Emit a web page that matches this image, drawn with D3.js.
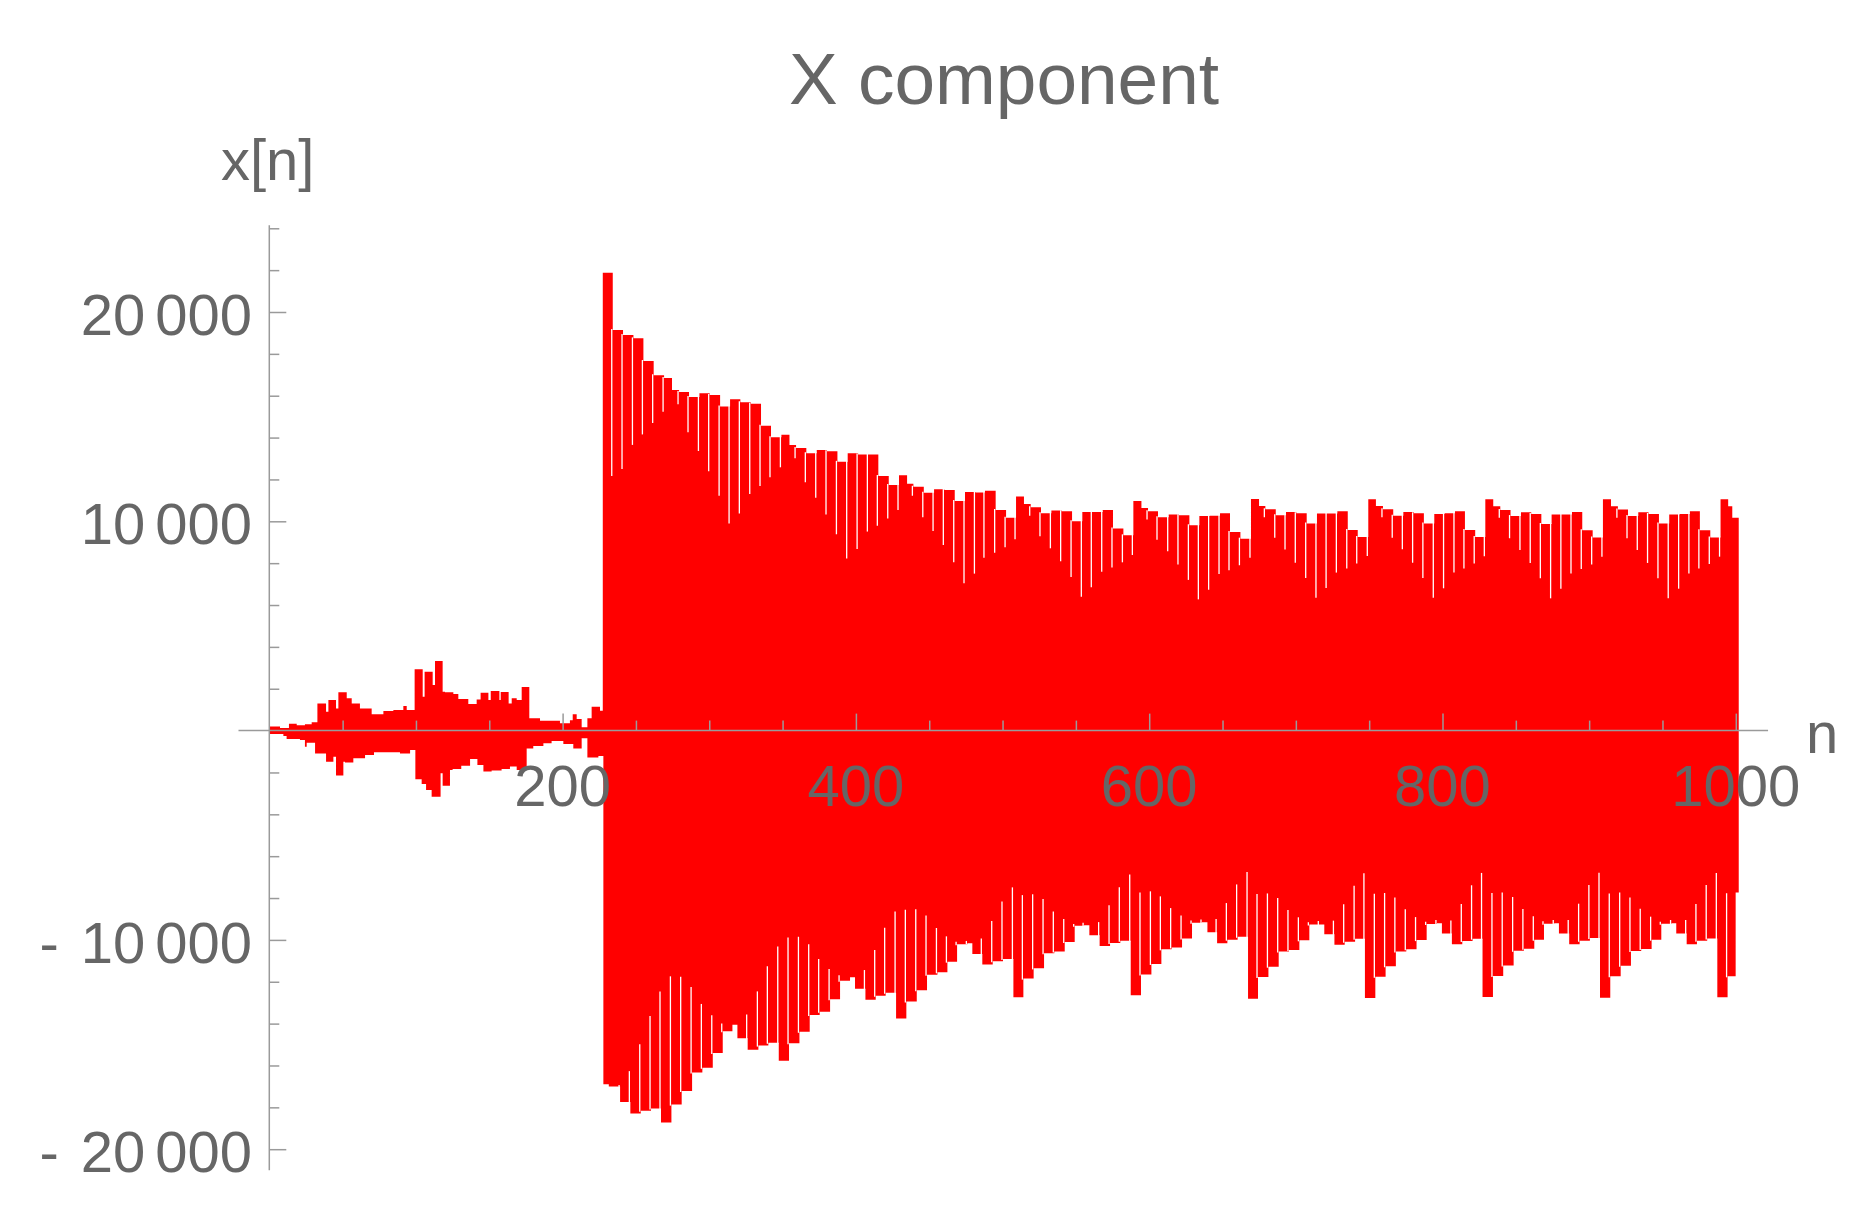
<!DOCTYPE html>
<html><head><meta charset="utf-8">
<script src="https://cdn.jsdelivr.net/npm/d3@7"></script>
<style>body{margin:0;background:#fff}svg{display:block}</style>
</head><body>
<svg id="chart" width="1875" height="1224"></svg>
<script>
// ---------------- data ----------------
const titleText = "X component";
const xAxisLabel = "n";
const yAxisLabel = "x[n]";
const xMajorTicks = [200, 400, 600, 800, 1000];
const xTickLabels = ["200", "400", "600", "800", "1000"];
const xMinorTicks = [50, 100, 150, 250, 300, 350, 450, 500, 550, 650, 700, 750, 850, 900, 950];
const yMajorTicks = [-20000, -10000, 10000, 20000];
const yLabelSign = ["-", "-", "", ""];
const yLabelHead = ["20", "10", "10", "20"];
const yLabelTail = ["000", "000", "000", "000"];
const yMinorTicks = [-18000, -16000, -14000, -12000, -8000, -6000, -4000, -2000, 2000, 4000, 6000, 8000, 12000, 14000, 16000, 18000, 22000, 24000];
const xAxisExtent = [-21, 1022];
const yAxisExtent = [-21000, 24150];
const lastN = 1002;

// early, small-amplitude part: upper envelope
const earlyTopN = [0, 7.3, 13.4, 18.7, 24.3, 28.9, 32.8, 38.7, 40.3, 45.5, 47.1, 52.8, 56.2, 61.8, 69.8, 77.8, 84.6, 91.4, 93.7, 99.1, 104.6, 105.9, 111.4, 113.0, 118.2, 119.8, 125.5, 128.9, 135.7, 141.4, 144.1, 149.4, 151.0, 156.9, 157.8, 163.2, 165.3, 168.7, 172.1, 177.3, 184.6, 198.2, 205.0, 206.9, 209.6, 213.0, 216.9, 219.8, 225.5];
const earlyTopV = [190, 120, 330, 250, 300, 395, 1300, 900, 1460, 1060, 1830, 1540, 1300, 1060, 780, 940, 985, 1175, 985, 2930, 1620, 2815, 2180, 3325, 1860, 1830, 1750, 1510, 1270, 1490, 1810, 1460, 1890, 1460, 1845, 1300, 1540, 1460, 2080, 585, 475, 350, 500, 780, 560, 160, 585, 1145, 950];
// early part: lower envelope
const earlyBotN = [0, 9.6, 11.8, 20.9, 24.3, 25.5, 31.2, 38.7, 43.7, 45.5, 50.5, 51.6, 57.3, 65.3, 71.4, 89.1, 96.0, 99.6, 103.9, 106.9, 110.7, 116.8, 118.2, 123.2, 125.0, 130.9, 136.9, 141.9, 146.0, 151.6, 158.4, 164.1, 168.7, 175.5, 180.0, 186.9, 192.5, 200.5, 207.3, 213.0, 216.9, 224.4];
const earlyBotV = [-160, -260, -400, -450, -770, -580, -1090, -1485, -1250, -2140, -1490, -1520, -1325, -1170, -1040, -1090, -930, -2330, -2550, -2840, -3160, -2040, -2630, -1880, -1840, -1680, -1360, -1640, -1960, -1910, -1840, -1720, -1880, -850, -740, -610, -500, -640, -850, -370, -1280, -1210];

// large part: upper plateaus (start n, plateau value, depth of the white notch before it)
const topN = [227.4, 234.2, 241.2, 248.3, 255.1, 262.1, 269.2, 274.6, 279.4, 286.2, 293.3, 300.3, 307.4, 314.2, 321.2, 328.3, 335.3, 342.1, 349.2, 354.7, 359.2, 366.2, 373.3, 380.3, 387.4, 394.4, 401.5, 408.5, 415.3, 422.4, 429.4, 434.9, 439.2, 446.3, 453.3, 460.3, 467.4, 474.4, 481.5, 488.0, 495.3, 502.4, 509.2, 514.6, 519.2, 526.2, 533.3, 540.3, 547.4, 554.4, 561.2, 568.3, 575.3, 582.4, 589.2, 594.7, 599.2, 606.0, 613.3, 620.3, 627.4, 634.2, 641.2, 648.3, 655.1, 662.2, 669.4, 674.9, 679.2, 686.3, 693.3, 700.3, 707.4, 714.4, 721.3, 728.3, 735.4, 742.2, 749.4, 754.6, 759.4, 766.4, 773.3, 780.3, 787.3, 794.4, 801.4, 808.5, 815.3, 822.3, 829.2, 834.6, 839.4, 846.4, 853.5, 860.5, 867.4, 874.4, 881.4, 888.3, 895.3, 902.4, 909.4, 914.9, 919.6, 926.5, 933.5, 940.5, 947.6, 954.6, 961.7, 968.7, 975.5, 982.6, 989.6, 994.8, 997.6];
const topV = [21880, 19140, 18900, 18740, 17660, 16980, 16850, 16270, 16180, 15940, 16120, 16040, 15480, 15830, 15690, 15620, 14570, 14010, 14130, 13650, 13500, 13250, 13410, 13350, 12840, 13250, 13190, 13190, 12170, 11740, 12200, 11800, 11650, 11370, 11530, 11500, 10970, 11400, 11380, 11460, 10540, 10170, 11180, 10830, 10670, 10380, 10520, 10480, 10000, 10440, 10440, 10540, 9660, 9330, 10970, 10640, 10480, 10190, 10330, 10290, 9810, 10250, 10270, 10380, 9490, 9170, 11070, 10730, 10570, 10290, 10440, 10380, 9900, 10370, 10370, 10480, 9580, 9250, 11050, 10730, 10570, 10270, 10440, 10380, 9900, 10350, 10380, 10480, 9580, 9250, 11050, 10720, 10540, 10250, 10430, 10350, 9870, 10330, 10330, 10440, 9570, 9230, 11050, 10720, 10560, 10250, 10430, 10350, 9890, 10330, 10350, 10480, 9570, 9230, 11050, 10720, 10170];
const topDip = [null, 12170, 12500, 13650, 14150, 14700, 15230, null, 15590, 14250, 13360, 12390, 11220, 9890, 10370, 11300, 11690, 12100, 12580, null, 13010, 11860, 11130, 10320, 9380, 8220, 8680, 9510, 9790, 10130, 10540, null, 11220, 10190, 9540, 8870, 8040, 7040, 7500, 8260, 8500, 8760, 9140, null, 10270, 9280, 8710, 8090, 7340, 6400, 6850, 7590, 7790, 8040, 8390, null, 10090, 9120, 8570, 7940, 7200, 6270, 6730, 7480, 7660, 7900, 8260, null, 10190, 9220, 8650, 8020, 7290, 6350, 6810, 7550, 7740, 7980, 8340, null, 10190, 9220, 8660, 8020, 7290, 6350, 6800, 7550, 7740, 7980, 8330, null, 10170, 9190, 8630, 8010, 7280, 6320, 6780, 7510, 7720, 7940, 8310, null, 10170, 9190, 8630, 8010, 7280, 6320, 6780, 7510, 7740, 7960, 8310, null, null];

// large part: lower plateaus (start n, plateau value, height of the white notch before it)
const botN = [227.8, 231.5, 239.2, 246.2, 253.3, 260.3, 267.1, 274.2, 281.2, 288.3, 295.3, 302.4, 309.2, 315.8, 319.2, 326.2, 333.5, 340.3, 347.4, 354.4, 361.5, 368.5, 375.3, 382.4, 389.2, 396.0, 399.4, 406.5, 413.5, 420.3, 427.4, 434.4, 441.5, 448.5, 455.6, 462.4, 469.0, 476.0, 479.4, 486.2, 493.3, 500.3, 507.4, 514.2, 521.2, 528.3, 535.3, 542.4, 549.2, 555.6, 559.2, 566.2, 573.3, 580.3, 587.4, 594.4, 601.5, 608.3, 615.3, 622.4, 629.2, 636.0, 639.7, 646.3, 653.3, 660.3, 667.4, 674.2, 681.3, 688.3, 695.3, 702.4, 709.2, 716.0, 719.4, 726.3, 733.3, 740.4, 747.1, 754.2, 761.2, 768.2, 775.3, 782.3, 789.2, 796.2, 799.6, 806.4, 813.5, 820.5, 827.3, 834.4, 841.4, 848.5, 855.5, 862.6, 869.2, 876.2, 879.4, 886.4, 893.5, 900.5, 907.4, 914.4, 921.5, 928.5, 935.5, 942.6, 949.2, 956.2, 959.4, 966.5, 973.5, 980.5, 987.4, 994.4, 999.9];
const botV = [-16900, -17010, -17750, -18300, -18160, -18050, -18730, -17870, -17220, -16340, -16110, -15400, -14370, -14050, -14700, -15250, -15050, -14910, -15770, -14940, -14390, -13590, -13430, -12840, -11950, -11790, -12330, -12860, -12670, -12520, -13760, -12940, -12410, -11660, -11550, -11040, -10210, -10160, -10670, -11180, -11020, -10910, -12740, -11850, -11360, -10640, -10550, -10100, -9320, -9300, -9780, -10290, -10150, -10040, -12650, -11650, -11150, -10450, -10360, -9930, -9180, -9160, -9640, -10160, -9990, -9850, -12810, -11770, -11280, -10560, -10480, -10020, -9270, -9260, -9730, -10230, -10090, -9940, -12780, -11760, -11260, -10550, -10450, -10010, -9240, -9210, -9700, -10210, -10050, -9940, -12730, -11730, -11220, -10520, -10420, -9990, -9230, -9210, -9700, -10210, -10040, -9910, -12760, -11740, -11230, -10530, -10430, -9990, -9230, -9210, -9700, -10210, -10040, -9930, -12740, -11740, -7740];
const botRise = [null, null, -16930, -16270, -14980, -13640, -12470, -11740, -11760, -12250, -13060, -13600, -13990, null, null, -13560, -12460, -11260, -10310, -9880, -9850, -10210, -10910, -11390, -11690, null, null, -11440, -10480, -9420, -8640, -8560, -8540, -8830, -9430, -9830, -10090, -10050, null, -9930, -9100, -8160, -7490, -7860, -7820, -8050, -8640, -9000, -9240, -9180, null, -9150, -8350, -7490, -6870, -7730, -7680, -7920, -8480, -8840, -9070, -9020, null, -9000, -8240, -7350, -6760, -7810, -7780, -8000, -8570, -8920, -9160, -9100, null, -9080, -8300, -7410, -6820, -7790, -7760, -7980, -8540, -8910, -9130, -9050, null, -9070, -8290, -7390, -6800, -7760, -7730, -7950, -8520, -8870, -9110, -9050, null, -9050, -8270, -7380, -6790, -7780, -7740, -7970, -8510, -8890, -9130, -9050, null, -9050, -8290, -7380, -6800, -7770, null];

// ---------------- drawing ----------------
const FONT = "'Liberation Sans', Arial, Helvetica, sans-serif";
const TEXT = "#666666", AXIS = "#9a9a9a", RED = "#ff0000";

const x = d3.scaleLinear().domain([0, 1000]).range([269.3, 1735.8]);
const y = d3.scaleLinear().domain([0, 20000]).range([730.6, 312.0]);

const svg = d3.select("#chart");

const topPts = earlyTopN.map((n, i) => ({n, v: earlyTopV[i], g: null}))
  .concat(topN.map((n, i) => ({n, v: topV[i], g: topDip[i]})));
const botPts = earlyBotN.map((n, i) => ({n, v: earlyBotV[i], g: null}))
  .concat(botN.map((n, i) => ({n, v: botV[i], g: botRise[i]})));
const topLine = topPts.concat([{n: lastN, v: topPts[topPts.length - 1].v}]);
const botLine = botPts.concat([{n: lastN, v: botPts[botPts.length - 1].v}]);

const area = d3.area().x(d => x(d.n)).y0(y(0)).y1(d => y(d.v)).curve(d3.curveStepAfter);

const plot = svg.append("g");
plot.append("path").datum(topLine).attr("d", area).attr("fill", RED);
plot.append("path").datum(botLine).attr("d", area).attr("fill", RED);

// white notches between plateaus
const gapsTop = topPts.map((d, i) => ({d, i})).filter(o => o.d.g != null && o.i > 0);
plot.selectAll("line.gt").data(gapsTop).enter().append("line")
  .attr("x1", o => x(o.d.n) - 1).attr("x2", o => x(o.d.n) - 1)
  .attr("y1", o => y(Math.min(o.d.v, topPts[o.i - 1].v)) - 1)
  .attr("y2", o => y(o.d.g))
  .attr("stroke", "#fff").attr("stroke-width", 1.3);
const gapsBot = botPts.map((d, i) => ({d, i})).filter(o => o.d.g != null && o.i > 0);
plot.selectAll("line.gb").data(gapsBot).enter().append("line")
  .attr("x1", o => x(o.d.n) - 1).attr("x2", o => x(o.d.n) - 1)
  .attr("y1", o => y(Math.max(o.d.v, botPts[o.i - 1].v)) + 1)
  .attr("y2", o => y(o.d.g))
  .attr("stroke", "#fff").attr("stroke-width", 1.3);

// axes
const ax = svg.append("g");
ax.append("line").attr("x1", x(xAxisExtent[0])).attr("x2", x(xAxisExtent[1]))
  .attr("y1", y(0)).attr("y2", y(0)).attr("stroke", AXIS).attr("stroke-width", 1.5);
ax.append("line").attr("x1", x(0)).attr("x2", x(0))
  .attr("y1", y(yAxisExtent[1])).attr("y2", y(yAxisExtent[0])).attr("stroke", AXIS).attr("stroke-width", 1.5);

function styleAxis(g) {
  g.select(".domain").remove();
  g.selectAll(".tick line").attr("stroke", AXIS).attr("stroke-width", 1.5);
  g.selectAll(".tick text").remove();
}
ax.append("g").attr("transform", `translate(0,${y(0)})`)
  .call(d3.axisTop(x).tickValues(xMinorTicks).tickSize(10).tickFormat(""))
  .call(styleAxis);
ax.append("g").attr("transform", `translate(0,${y(0)})`)
  .call(d3.axisTop(x).tickValues(xMajorTicks).tickSize(17).tickFormat(""))
  .call(styleAxis);
ax.append("g").attr("transform", `translate(${x(0)},0)`)
  .call(d3.axisRight(y).tickValues(yMinorTicks).tickSize(10).tickFormat(""))
  .call(styleAxis);
ax.append("g").attr("transform", `translate(${x(0)},0)`)
  .call(d3.axisRight(y).tickValues(yMajorTicks).tickSize(17).tickFormat(""))
  .call(styleAxis);

// tick labels
const lab = svg.append("g").attr("font-family", FONT).attr("fill", TEXT).attr("font-size", 58);
lab.selectAll("text.xt").data(xMajorTicks).enter().append("text")
  .attr("x", d => x(d)).attr("y", 806).attr("text-anchor", "middle")
  .text((d, i) => xTickLabels[i]);
yMajorTicks.forEach((v, i) => {
  const t = lab.append("text").attr("x", 252).attr("y", y(v) + 23).attr("text-anchor", "end");
  if (yLabelSign[i]) {
    t.append("tspan").text(yLabelSign[i]);
    t.append("tspan").attr("dx", 22).text(yLabelHead[i]);
  } else {
    t.append("tspan").text(yLabelHead[i]);
  }
  t.append("tspan").attr("dx", 10).text(yLabelTail[i]);
});

// axis labels and title
lab.append("text").attr("x", 221).attr("y", 180).text(yAxisLabel);
lab.append("text").attr("x", 1806).attr("y", 753).text(xAxisLabel);
svg.append("text").attr("x", 1004).attr("y", 104).attr("text-anchor", "middle")
  .attr("font-family", FONT).attr("font-size", 73).attr("fill", TEXT).text(titleText);
</script>
</body></html>
